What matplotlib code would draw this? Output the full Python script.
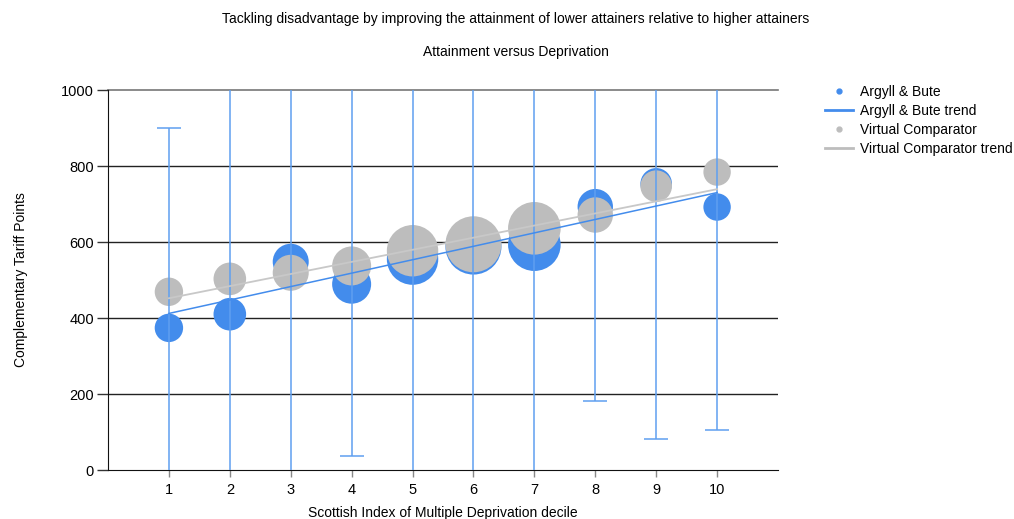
import numpy as np
import matplotlib
matplotlib.use("Agg")
import matplotlib.pyplot as plt
from matplotlib.lines import Line2D

# SIMD decile data
deciles = [1, 2, 3, 4, 5, 6, 7, 8, 9, 10]
argyll_points = [374, 410, 548, 489, 555, 588, 593, 693, 753, 692]
comparator_points = [469, 503, 519, 537, 577, 594, 636, 671, 747, 784]
# relative cohort size per decile (bubble radius, px)
argyll_size = [14.2, 16.3, 18.0, 19.5, 25.7, 28.0, 26.3, 17.7, 15.8, 13.7]
comparator_size = [14.2, 16.3, 18.0, 19.5, 25.7, 28.0, 26.3, 17.7, 15.8, 13.7]
# range of Argyll & Bute tariff points
argyll_low = [-60, -60, -60, 37, -60, -60, -60, 182, 82, 106]
argyll_high = [900, 1150, 1150, 1150, 1150, 1150, 1150, 1150, 1150, 1150]
# trend lines, value at first and last decile
trend_deciles = [1, 10]
argyll_trend = [412, 730]
comparator_trend = [452, 739]

blue = "#438cec"
blue_line = "#5f9ff0"
grey = "#bdbdbd"

plt.rcParams["font.family"] = ["Liberation Sans", "DejaVu Sans"]

fig = plt.figure(figsize=(10.14, 5.19), dpi=100)
ax = fig.add_axes([108 / 1014, 1 - 470 / 519, 670 / 1014, 380 / 519])

x = np.array(deciles, dtype=float)
ya = np.array(argyll_points, dtype=float)
yc = np.array(comparator_points, dtype=float)

def area(radii):
    r = np.array(radii)
    return (2 * r * 72 / 100) ** 2

ax.scatter(x, ya, s=area(argyll_size), color=blue, edgecolors="none", zorder=3)
ax.scatter(x, yc, s=area(comparator_size), color=grey, edgecolors="none", zorder=4)

# range bars
yerr = [ya - np.array(argyll_low), np.array(argyll_high) - ya]
ax.errorbar(x, ya, yerr=yerr, fmt="none", ecolor=blue_line, elinewidth=1.1,
            capsize=8.6, capthick=1.1, zorder=5)

# linear trends
ax.plot(trend_deciles, comparator_trend, color="#c8c8c8", lw=1.3, zorder=6)
ax.plot(trend_deciles, argyll_trend, color=blue, lw=1.1, zorder=7)

ax.set_xlim(0, 11)
ax.set_ylim(0, 1000)
ax.set_xticks(deciles)
ax.set_yticks([0, 200, 400, 600, 800, 1000])
ax.tick_params(axis="y", length=8, width=1, color="#333333", labelsize=10.5, pad=2)
ax.tick_params(axis="x", length=5, width=1, color="#888888", labelsize=10.5, pad=4)
for y in [200, 400, 600, 800]:
    ax.axhline(y, color="#222222", lw=1, zorder=1)
ax.axhline(1000, color="#777777", lw=1.2, zorder=1, clip_on=False)
for s in ["top", "right"]:
    ax.spines[s].set_visible(False)
ax.spines["left"].set_color("#111111")
ax.spines["bottom"].set_color("#111111")

ax.set_xlabel("Scottish Index of Multiple Deprivation decile", fontsize=10, labelpad=7)
ax.set_ylabel("Complementary Tariff Points", fontsize=10, labelpad=24)

fig.text(516 / 1014, 1 - 19 / 519, "Tackling disadvantage by improving the attainment of lower attainers relative to higher attainers",
         ha="center", va="center", fontsize=10)
fig.text(516 / 1014, 1 - 52 / 519, "Attainment versus Deprivation", ha="center", va="center", fontsize=10)

handles = [
    Line2D([], [], marker="o", ls="none", color=blue, markersize=3.5),
    Line2D([], [], color=blue, lw=2),
    Line2D([], [], marker="o", ls="none", color=grey, markersize=3.5),
    Line2D([], [], color=grey, lw=2),
]
labels = ["Argyll & Bute", "Argyll & Bute trend", "Virtual Comparator", "Virtual Comparator trend"]
fig.legend(handles, labels, loc="upper left", bbox_to_anchor=(821 / 1014, 1 - 81 / 519),
           frameon=False, fontsize=10, handlelength=2.0, handletextpad=0.5,
           labelspacing=0.36, borderaxespad=0, borderpad=0.3)

fig.savefig("out.png", dpi=100)
